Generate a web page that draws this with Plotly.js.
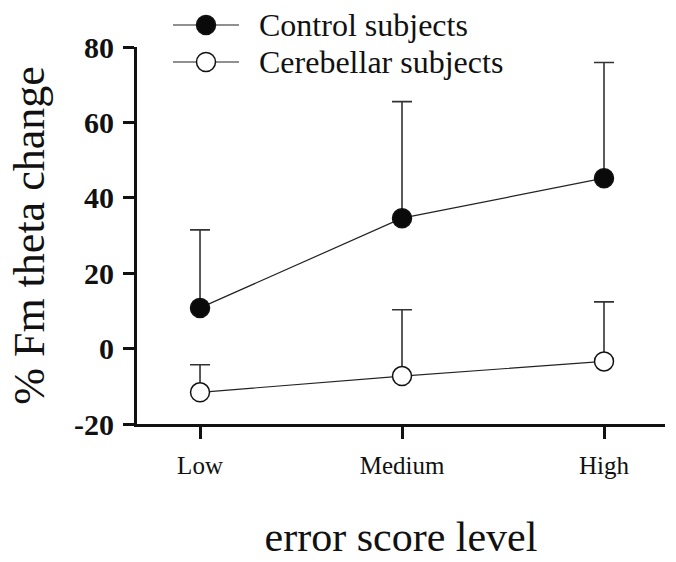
<!DOCTYPE html>
<html><head><meta charset="utf-8">
<script src="https://cdn.plot.ly/plotly-3.0.1.min.js"></script>
<style>html,body{margin:0;padding:0;background:#fff}</style>
</head><body><div id="chart" style="width:676px;height:562px"></div>
<script>
// Error score levels and group means (% change of Fm theta), with upward SD bars
const levels = ['Low', 'Medium', 'High'];
const controlMean = [10.8, 34.6, 45.2];
const controlSD = [20.7, 30.9, 30.7];
const cerebellarMean = [-11.6, -7.3, -3.4];
const cerebellarSD = [7.3, 17.6, 15.8];
const seriesNames = ['Control subjects', 'Cerebellar subjects'];
const yTicks = [-20, 0, 20, 40, 60, 80];

const W = 676, H = 562;
const M = {l: 137, r: 11, t: 47, b: 138};
const serif = 'Liberation Serif';

// pixel -> paper helpers for the hand-drawn legend
const pw = W - M.l - M.r, ph = H - M.t - M.b;
const px = x => (x - M.l) / pw;
const py = y => (H - M.b - y) / ph;

function series(y, sd, fill) {
  return {
    x: levels, y: y, type: 'scatter', mode: 'lines+markers', showlegend: false,
    line: {color: '#222', width: 1.2},
    marker: {size: 19, color: fill, line: {color: '#111', width: 1.5}},
    error_y: {type: 'data', symmetric: false, array: sd, arrayminus: y.map(() => 0),
              color: '#333', thickness: 1.6, width: 10},
    cliponaxis: false
  };
}

const traces = [
  series(controlMean, controlSD, '#0a0a0a'),
  series(cerebellarMean, cerebellarSD, '#ffffff')
];

// legend: line with centred marker, then label
const shapes = [], annotations = [];
const legendRows = [25, 62];
const fills = ['#0a0a0a', '#ffffff'];
legendRows.forEach((ry, i) => {
  shapes.push({type: 'line', xref: 'paper', yref: 'paper', x0: px(173), x1: px(239), y0: py(ry), y1: py(ry),
               line: {color: '#222', width: 1.2}});
  shapes.push({type: 'circle', xref: 'paper', yref: 'paper', x0: px(196.5), x1: px(215.5), y0: py(ry + 9.5), y1: py(ry - 9.5),
               fillcolor: fills[i], line: {color: '#111', width: 1.5}});
  annotations.push({xref: 'paper', yref: 'paper', x: px(257), y: py(ry), xanchor: 'left', yanchor: 'middle',
                    text: '<span style="font-family:Liberation Serif">' + seriesNames[i] + '</span>',
                    showarrow: false,
                    font: {family: serif, size: 32, color: '#111'}});
});

const layout = {
  width: W, height: H, margin: M,
  paper_bgcolor: '#fff', plot_bgcolor: '#fff',
  showlegend: false,
  font: {family: serif, color: '#111'},
  xaxis: {
    type: 'category', range: [-0.312, 2.302], showgrid: false, zeroline: false,
    showline: true, linecolor: '#111', linewidth: 3,
    ticks: 'outside', ticklen: 12, tickwidth: 3, tickcolor: '#111',
    ticklabelstandoff: 5,
    tickfont: {family: serif, size: 25, color: '#111', weight: 'normal'},
    title: {text: 'error score level', font: {family: serif, size: 42, color: '#111', weight: 'normal'}, standoff: 44}
  },
  yaxis: {
    range: [-20, 80], tickvals: yTicks, ticktext: yTicks.map(v => String(v)),
    showgrid: false, zeroline: false,
    showline: true, linecolor: '#111', linewidth: 3,
    ticks: 'outside', ticklen: 11, tickwidth: 3, tickcolor: '#111',
    ticklabelstandoff: 3,
    tickfont: {family: serif, size: 30, color: '#111', weight: 'bold'},
    title: {text: '% Fm theta change', font: {family: serif, size: 44, color: '#111', weight: 'normal'}, standoff: 16}
  },
  shapes: shapes, annotations: annotations
};

Plotly.newPlot('chart', traces, layout, {staticPlot: true, displayModeBar: false});
</script>
</body></html>
